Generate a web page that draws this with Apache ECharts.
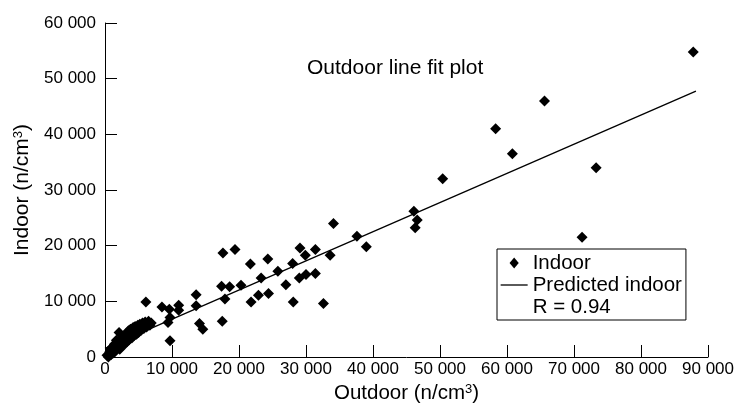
<!DOCTYPE html>
<html>
<head>
<meta charset="utf-8">
<script src="https://cdn.jsdelivr.net/npm/echarts@6/dist/echarts.min.js"></script>
<style>html,body{margin:0;padding:0;background:#fff}#c{width:737px;height:409px}</style>
</head>
<body>
<div id="c"></div>
<script>
// Outdoor (x) and indoor (y) particle counts, n/cm3
const outdoorX = [300,500,700,800,900,1100,1200,1400,1500,1700,1800,2000,2100,2200,2400,2600,2800,3000,3200,3300,3500,3600,3800,4000,4200,4300,4500,4700,4900,5000,5200,5400,5600,5800,6000,6200,6500,6700,6900,6100,
  8500,9600,9700,9400,9700,11000,11000,13600,13600,14100,14600,17400,17500,17600,17900,18600,19400,20300,21700,21800,22900,23300,24300,24400,25800,27000,28000,28100,29000,29100,29900,30000,31400,31400,32600,33600,34100,37600,39000,46100,46600,46300,50400,58300,60800,65600,71200,73300,87800];
const indoorY = [300,0,900,1400,400,1800,700,2300,1000,3000,1500,2700,4400,1400,3300,2000,3700,2400,4200,2800,4700,3100,5000,3400,5300,3800,5500,4100,5700,4400,5900,4800,6100,5100,6300,5400,6400,5700,6100,9900,
  9000,8600,7100,6200,2900,9300,8400,11200,9200,6000,5000,12700,6400,18700,10400,12600,19300,12900,16700,9900,11100,14200,17600,11400,15400,13000,16800,9900,14200,19600,18300,14800,19300,15000,9600,18300,24000,21700,19800,26200,24600,23200,32000,41000,36500,46000,21500,34000,54800];
// Fitted regression line end points
const fitX = [0, 88200];
const fitY = [1550, 47770];
const xTicks = {min: 0, max: 90000, step: 10000};
const yTicks = {min: 0, max: 60000, step: 10000};
const titleText = 'Outdoor line fit plot';
const rText = 'R = 0.94';

const fmt = v => String(v).replace(/\B(?=(\d{3})+(?!\d))/g, ' ');
const FONT = 'Liberation Sans, Arial, Helvetica, sans-serif';
const chart = echarts.init(document.getElementById('c'));
chart.setOption({
  animation: false,
  textStyle: {fontFamily: FONT, color: '#000'},
  title: {text: titleText, left: 302, top: 53, textStyle: {fontSize: 21, fontWeight: 'normal', color: '#000', fontFamily: FONT}},
  grid: {left: 105, right: 27, top: 23, bottom: 51, containLabel: false},
  xAxis: {
    type: 'value', min: xTicks.min, max: xTicks.max, interval: xTicks.step,
    name: '{a|Outdoor (n/cm}{b|3}{a|)}', nameLocation: 'middle', nameGap: 26,
    nameTextStyle: {rich: {a: {fontSize: 20.5, color: '#000', fontFamily: FONT}, b: {fontSize: 13, color: '#000', fontFamily: FONT, verticalAlign: 'top'}}},
    axisLine: {lineStyle: {color: '#000', width: 1}},
    axisTick: {inside: true, length: 12, lineStyle: {color: '#000'}},
    axisLabel: {fontSize: 17, color: '#000', margin: 4, formatter: fmt, fontFamily: FONT},
    splitLine: {show: false}
  },
  yAxis: {
    type: 'value', min: yTicks.min, max: yTicks.max, interval: yTicks.step,
    name: '{a|Indoor (n/cm}{b|3}{a|)}', nameLocation: 'middle', nameGap: 72,
    nameTextStyle: {rich: {a: {fontSize: 21, color: '#000', fontFamily: FONT}, b: {fontSize: 13, color: '#000', fontFamily: FONT, verticalAlign: 'top'}}},
    axisLine: {show: true, lineStyle: {color: '#000', width: 1}},
    axisTick: {inside: true, length: 12, lineStyle: {color: '#000'}},
    axisLabel: {fontSize: 17, color: '#000', margin: 9, formatter: fmt, fontFamily: FONT},
    splitLine: {show: false}
  },
  legend: {
    left: 497, top: 249, orient: 'vertical', selectedMode: false,
    borderColor: '#000', borderWidth: 1, padding: [3, 4, 2, 3], itemGap: 0,
    itemWidth: 27, itemHeight: 11, symbolKeepAspect: true,
    textStyle: {fontSize: 20.5, lineHeight: 22, color: '#000', fontFamily: FONT},
    data: [
      {name: 'Indoor', icon: 'path://M5,0 L10,6 L5,12 L0,6 Z', itemStyle: {color: '#000', opacity: 1}},
      {name: 'Predicted indoor', itemStyle: {opacity: 0}, lineStyle: {color: '#000', width: 1.3}},
      {name: rText, icon: 'none'}
    ]
  },
  series: [
    {
      name: 'Indoor', type: 'scatter', symbol: 'diamond', symbolSize: 11,
      itemStyle: {color: '#000', opacity: 1},
      data: outdoorX.map((x, i) => [x, indoorY[i]])
    },
    {
      name: 'Predicted indoor', type: 'line', symbol: 'none', z: 3,
      itemStyle: {color: '#000'},
      lineStyle: {color: '#000', width: 1.3},
      data: fitX.map((x, i) => [x, fitY[i]])
    },
    {
      name: rText, type: 'line', symbol: 'none', data: [],
      lineStyle: {width: 0, opacity: 0}, itemStyle: {color: '#000'}
    }
  ]
});
</script>
</body>
</html>
